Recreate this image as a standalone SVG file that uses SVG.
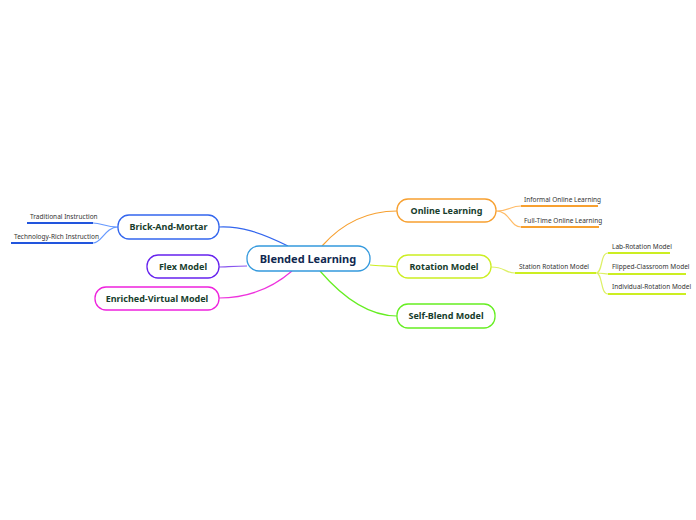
<svg xmlns="http://www.w3.org/2000/svg" width="696" height="520" viewBox="0 0 696 520">
<style>
.n{fill:#fff;stroke-width:1.3}
.t{font-family:"Noto Sans",sans-serif;font-weight:bold;font-size:9px;fill:#173d2c;text-anchor:middle}
.c{font-family:"Noto Sans",sans-serif;font-weight:bold;font-size:11px;fill:#102850;text-anchor:middle}
.s{font-family:"Noto Sans",sans-serif;font-size:6.5px;fill:#333}
.l{fill:none;stroke-width:1.2}
.u{fill:none;stroke-width:2}
</style>
<rect width="696" height="520" fill="#fff"/>
<g id="connectors">
<path class="l" stroke="#3366ee" d="M288 246 C260 232 240 226 219 227"/>
<path class="l" stroke="#8855ee" d="M247 266 C235 266 225 267 219 267"/>
<path class="l" stroke="#ee33dd" d="M292 271 C270 290 245 298 219 298"/>
<path class="l" stroke="#f7a030" d="M322 246 C345 220 370 211 397 211"/>
<path class="l" stroke="#ccee22" d="M370 265 C380 266 390 266 397 267"/>
<path class="l" stroke="#66ee22" d="M320 271 C345 300 370 316 397 316"/>
<path class="l" stroke="#6699ff" d="M118 227 C105 227 102 223 93 223 M118 227 C105 227 102 243 93 243"/>
<path class="u" stroke="#2255dd" d="M27 223 H93 M11 243 H93"/>
<path class="l" stroke="#ffbb66" d="M496 211 C510 211 510 206 521 206 M496 211 C510 211 510 227 521 227"/>
<path class="u" stroke="#f7a030" d="M521 206 H598 M521 227 H599"/>
<path class="l" stroke="#ddf066" d="M491 267 C505 267 505 273 515 273 M596 273 C603 273 600 253 608 253 M596 273 C604 273 604 274 608 274 M596 273 C603 273 600 294 608 294"/>
<path class="u" stroke="#ccee22" d="M515 273 H596 M608 253 H670 M608 274 H686 M608 294 H686"/>
</g>
<g id="center"><rect class="n" stroke="#3399dd" x="247" y="246" width="123" height="25" rx="12"/><text class="c" x="308" y="263">Blended Learning</text></g>
<g id="brick"><rect class="n" stroke="#3366ee" x="118" y="215" width="101" height="24" rx="11"/><text class="t" x="168.5" y="230">Brick-And-Mortar</text></g>
<g id="flex"><rect class="n" stroke="#6622ee" x="147" y="255" width="72" height="23" rx="11"/><text class="t" x="183" y="270">Flex Model</text></g>
<g id="enriched"><rect class="n" stroke="#ee22dd" x="95" y="287" width="124" height="23" rx="11"/><text class="t" x="157" y="302">Enriched-Virtual Model</text></g>
<g id="online"><rect class="n" stroke="#f7a030" x="397" y="199" width="99" height="23" rx="11"/><text class="t" x="446.5" y="214">Online Learning</text></g>
<g id="rotation"><rect class="n" stroke="#ccee22" x="397" y="255" width="94" height="23" rx="11"/><text class="t" x="444" y="270">Rotation Model</text></g>
<g id="selfblend"><rect class="n" stroke="#66ee22" x="397" y="304" width="98" height="24" rx="11"/><text class="t" x="446" y="319">Self-Blend Model</text></g>
<g id="subs">
<text class="s" x="30" y="219">Traditional Instruction</text>
<text class="s" x="14" y="239">Technology-Rich Instruction</text>
<text class="s" x="524" y="202">Informal Online Learning</text>
<text class="s" x="524" y="223">Full-Time Online Learning</text>
<text class="s" x="519" y="269">Station Rotation Model</text>
<text class="s" x="612" y="249">Lab-Rotation Model</text>
<text class="s" x="612" y="269">Flipped-Classroom Model</text>
<text class="s" x="612" y="289">Individual-Rotation Model</text>
</g>
</svg>
